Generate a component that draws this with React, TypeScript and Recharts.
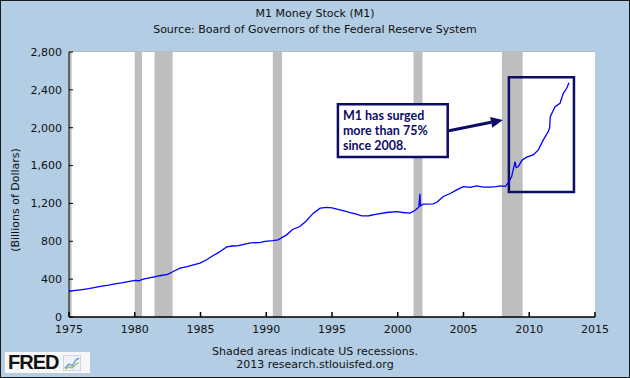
import React from 'react'
import { LineChart, Line, XAxis, YAxis, CartesianGrid, ReferenceArea, ReferenceLine } from 'recharts'

// M1 money stock, billions of dollars (decimal year)
const YEARS = [
  1975.0, 1975.5, 1976.0, 1976.5, 1977.0, 1977.4, 1978.0, 1978.5, 1979.0, 1979.5,
  1980.0, 1980.3, 1980.65, 1981.0, 1981.5, 1981.9, 1982.5, 1982.93, 1983.44, 1984.0,
  1984.45, 1984.96, 1985.5, 1985.97, 1986.3, 1986.6, 1987.0, 1987.4, 1987.8, 1988.3,
  1988.8, 1989.5, 1989.9, 1990.5, 1990.9, 1991.55, 1992.0, 1992.56, 1993.0, 1993.58,
  1994.1, 1994.6, 1995.0, 1995.6, 1996.0, 1996.37, 1996.8, 1997.26, 1997.8, 1998.4,
  1999.16, 1999.9, 2000.4, 2000.93, 2001.3, 2001.6, 2001.69, 2001.72, 2001.94, 2002.7,
  2003.0, 2003.46, 2004.0, 2004.48, 2004.98, 2005.5, 2006.0, 2006.5, 2007.0, 2007.5,
  2007.8, 2008.2, 2008.46, 2008.66, 2008.92, 2009.0, 2009.17, 2009.43, 2009.8, 2010.3,
  2010.69, 2011.07, 2011.45, 2011.55, 2011.6, 2011.96, 2012.34, 2012.59, 2012.85, 2013.02,
]
const M1 = [
  272, 281, 290, 300, 312, 323, 336, 350, 360, 374,
  386, 383, 401, 410, 425, 436, 450, 481, 517, 532,
  552, 570, 608, 650, 675, 703, 740, 750, 752, 768,
  784, 786, 798, 808, 816, 868, 925, 956, 1010, 1097,
  1150, 1158, 1152, 1132, 1118, 1104, 1090, 1069, 1070, 1087,
  1104, 1114, 1104, 1097, 1125, 1160, 1301, 1175, 1193, 1196,
  1215, 1273, 1305, 1343, 1378, 1370, 1385, 1372, 1372, 1378,
  1385, 1380, 1431, 1484, 1642, 1580, 1590, 1653, 1689, 1713,
  1766, 1871, 1959, 2000, 2117, 2222, 2258, 2364, 2417, 2476,
]

const X_TICKS = [1975, 1980, 1985, 1990, 1995, 2000, 2005, 2010, 2015]
const Y_TICKS = [0, 400, 800, 1200, 1600, 2000, 2400, 2800]

const RECESSION_START = [1975.0, 1980.0, 1981.5, 1990.5, 2001.2, 2007.92]
const RECESSION_END = [1975.2, 1980.55, 1982.88, 1991.2, 2001.88, 2009.5]

const NOTE_LINES = ['M1 has surged', 'more than 75%', 'since 2008.']

const BG = '#B3CDE4'
const NAVY = '#0D0D66'
const FONT = '"DejaVu Sans", Verdana, sans-serif'

const data = YEARS.map((year, i) => ({ year, m1: M1[i] }))

function NoteLabel({ viewBox }: any) {
  const { x, y } = viewBox
  return (
    <g>
      {NOTE_LINES.map((t, i) => (
        <text
          key={t}
          x={x + 5}
          y={y + 16 + i * 15}
          fill={NAVY}
          fontSize={12.5}
          fontWeight="bold"
          fontFamily="Lato, sans-serif"
        >
          {t}
        </text>
      ))}
    </g>
  )
}

function Arrow(props: any) {
  const { x1, y1, x2, y2 } = props
  const ang = Math.atan2(y2 - y1, x2 - x1)
  const len = 12
  const w = 5.5
  const bx = x2 - len * Math.cos(ang)
  const by = y2 - len * Math.sin(ang)
  const px = -Math.sin(ang) * w
  const py = Math.cos(ang) * w
  return (
    <g>
      <line x1={x1} y1={y1} x2={bx} y2={by} stroke={NAVY} strokeWidth={3} />
      <polygon points={`${x2},${y2} ${bx + px},${by + py} ${bx - px},${by - py}`} fill={NAVY} />
    </g>
  )
}

export default function App() {
  return (
    <div style={{ position: 'absolute', left: 0, top: 0, width: 630, height: 378, background: BG, fontFamily: FONT }}>
      <div style={{ position: 'absolute', top: 7, width: 630, textAlign: 'center', fontSize: 11, color: '#111' }}>
        M1 Money Stock (M1)
      </div>
      <div style={{ position: 'absolute', top: 23, width: 630, textAlign: 'center', fontSize: 11, color: '#111' }}>
        Source: Board of Governors of the Federal Reserve System
      </div>

      <div style={{ position: 'absolute', left: 0, top: 0 }}>
        <LineChart width={630} height={378} data={data} margin={{ top: 52, right: 35, bottom: 0, left: 0 }}>
          <rect x={69} y={52} width={526} height={265} fill="#fff" />
          <CartesianGrid horizontal vertical={false} stroke="#AAAAAA" strokeWidth={1} fill="#fff" />
          {RECESSION_START.map((s, i) => (
            <ReferenceArea
              key={s}
              x1={s}
              x2={RECESSION_END[i]}
              y1={0}
              y2={2800}
              fill="#BEBEBE"
              fillOpacity={1}
              stroke="none"
            />
          ))}
          <XAxis
            dataKey="year"
            type="number"
            domain={[1975, 2015]}
            ticks={X_TICKS}
            height={61}
            stroke="#000"
            strokeWidth={1.5}
            tickSize={-5}
            tickMargin={13}
            tick={{ fill: '#111', fontSize: 11, fontFamily: FONT }}
            allowDataOverflow
          />
          <YAxis
            type="number"
            domain={[0, 2800]}
            ticks={Y_TICKS}
            width={69}
            stroke="#000"
            tickSize={-4}
            tickMargin={11}
            tick={{ fill: '#111', fontSize: 11, fontFamily: FONT }}
            tickFormatter={(v: number) => v.toLocaleString('en-US')}
          />
          <Line
            type="linear"
            dataKey="m1"
            stroke="#0000FF"
            strokeWidth={1.3}
            dot={false}
            isAnimationActive={false}
          />
          <ReferenceArea
            x1={2008.45}
            x2={2013.4}
            y1={1322}
            y2={2533}
            fill="none"
            fillOpacity={0}
            stroke={NAVY}
            strokeWidth={2.5}
          />
          <ReferenceArea
            x1={1995.45}
            x2={2003.8}
            y1={1690}
            y2={2248}
            fill="#fff"
            fillOpacity={1}
            stroke={NAVY}
            strokeWidth={2.5}
            label={NoteLabel}
          />
          <ReferenceLine
            segment={[{ x: 2003.8, y: 1966 }, { x: 2008.0, y: 2082 }]}
            ifOverflow="visible"
            shape={Arrow}
          />
        </LineChart>
      </div>

      <svg style={{ position: 'absolute', left: 0, top: 0 }} width={40} height={378}>
        <text x={19} y={200} transform="rotate(-90 19 200)" textAnchor="middle" fontSize={11} fontFamily={FONT} fill="#111">
          (Billions of Dollars)
        </text>
      </svg>

      <div style={{ position: 'absolute', top: 345, width: 630, textAlign: 'center', fontSize: 11, color: '#111' }}>
        Shaded areas indicate US recessions.
      </div>
      <div style={{ position: 'absolute', top: 358, width: 630, textAlign: 'center', fontSize: 11, color: '#111' }}>
        2013 research.stlouisfed.org
      </div>

      <div style={{ position: 'absolute', left: 5, top: 352, width: 85, height: 21, background: '#F7F7F7', display: 'flex', alignItems: 'center' }}>
        <span style={{ fontFamily: '"Liberation Sans", Arial, sans-serif', fontWeight: 900, fontSize: 20, letterSpacing: -1, color: '#111', marginLeft: 3, lineHeight: '21px' }}>
          FRED
        </span>
        <svg width={18} height={16} style={{ marginLeft: 5 }}>
          <rect x={0.5} y={0.5} width={17} height={15} fill="#eef3f7" stroke="#cfd8df" />
          <polyline points="2,13 6,9 9,11 13,5 16,3" fill="none" stroke="#5a8fc8" strokeWidth={1.2} />
          <polyline points="2,14 6,12 9,13 13,9 16,8" fill="none" stroke="#8cbf5a" strokeWidth={1.2} />
        </svg>
      </div>

      <div style={{ position: 'absolute', left: 0, top: 0, width: 630, height: 378, boxSizing: 'border-box', border: '1px solid #1a1a1a', pointerEvents: 'none' }} />
    </div>
  )
}
